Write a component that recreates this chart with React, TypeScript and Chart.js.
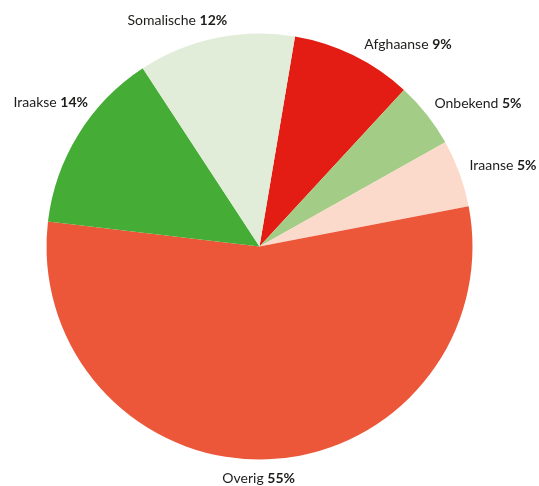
import React, { useEffect, useRef } from "react";
import { Chart, registerables } from "chart.js";

Chart.register(...registerables);

const categories = ["Afghaanse", "Onbekend", "Iraanse", "Overig", "Iraakse", "Somalische"];
const shares = [9.2, 5.0, 5.1, 54.9, 13.9, 11.9];
const percentLabels = ["9%", "5%", "5%", "55%", "14%", "12%"];
const colors = ["#e31d13", "#a3cd86", "#fbdacb", "#eb5738", "#45ad36", "#e1edd9"];

// label placement tweaks (angle nudge in degrees, extra radius in px)
const labelLayout = [
  { da: 1.2, dr: 15 },
  { da: -1, dr: 13 },
  { da: -1, dr: 12 },
  { da: 2.3, dr: 19 },
  { da: 8.3, dr: 11 },
  { da: 3.7, dr: 15 },
];

const FONT_FAMILY = "Lato, 'Open Sans', sans-serif";

const outsideLabels = {
  id: "outsideLabels",
  afterDatasetsDraw(chart: any) {
    const ctx = chart.ctx as CanvasRenderingContext2D;
    const meta = chart.getDatasetMeta(0);
    ctx.save();
    ctx.textBaseline = "middle";
    ctx.fillStyle = "#1d1d1b";
    meta.data.forEach((arc: any, i: number) => {
      const { x, y, startAngle, endAngle, outerRadius } = arc.getProps(
        ["x", "y", "startAngle", "endAngle", "outerRadius"],
        true
      );
      const lay = labelLayout[i] || { da: 0, dr: 12 };
      const mid = (startAngle + endAngle) / 2 + (lay.da * Math.PI) / 180;
      const r = outerRadius + lay.dr;
      const ax = x + Math.cos(mid) * r;
      const ay = y + Math.sin(mid) * r;
      const name = categories[i] + " ";
      const pct = percentLabels[i];
      ctx.font = `400 14px ${FONT_FAMILY}`;
      const w1 = ctx.measureText(name).width;
      ctx.font = `700 14px ${FONT_FAMILY}`;
      const w2 = ctx.measureText(pct).width;
      const total = w1 + w2;
      const c = Math.cos(mid);
      let sx: number;
      if (c > 0.08) sx = ax;
      else if (c < -0.08) sx = ax - total;
      else sx = ax - total / 2;
      ctx.textAlign = "left";
      ctx.font = `400 14px ${FONT_FAMILY}`;
      ctx.fillText(name, sx, ay);
      ctx.font = `700 14px ${FONT_FAMILY}`;
      ctx.fillText(pct, sx + w1, ay);
    });
    ctx.restore();
  },
};

export default function App() {
  const ref = useRef<HTMLCanvasElement | null>(null);
  useEffect(() => {
    if (!ref.current) return;
    const chart = new Chart(ref.current, {
      type: "pie",
      data: {
        labels: categories,
        datasets: [
          {
            data: shares,
            backgroundColor: colors,
            borderWidth: 0,
          },
        ],
      },
      options: {
        animation: false,
        responsive: true,
        maintainAspectRatio: false,
        rotation: 9.6,
        layout: { padding: { left: 46.5, right: 66.5, top: 33.5, bottom: 26.5 } },
        plugins: {
          legend: { display: false },
          tooltip: { enabled: false },
        },
      },
      plugins: [outsideLabels],
    });
    return () => chart.destroy();
  }, []);
  return (
    <div style={{ position: "fixed", left: 0, top: 0, width: 539, height: 486, background: "#fff" }}>
      <canvas ref={ref} />
    </div>
  );
}
